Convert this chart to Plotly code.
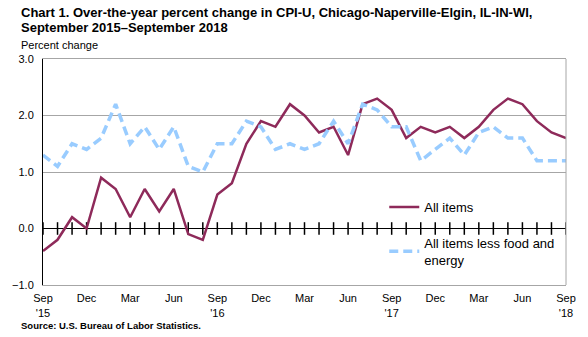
import plotly.graph_objects as go

# ---- data ----
months = ["Sep", "Oct", "Nov", "Dec", "Jan", "Feb", "Mar", "Apr", "May", "Jun", "Jul", "Aug"] * 3 + ["Sep"]
years = ["'15"] + [""] * 11 + ["'16"] + [""] * 11 + ["'17"] + [""] * 11 + ["'18"]
all_items = [-0.4, -0.2, 0.2, 0.0, 0.9, 0.7, 0.2, 0.7, 0.3, 0.7, -0.1, -0.2,
             0.6, 0.8, 1.5, 1.9, 1.8, 2.2, 2.0, 1.7, 1.8, 1.3, 2.2, 2.3,
             2.1, 1.6, 1.8, 1.7, 1.8, 1.6, 1.8, 2.1, 2.3, 2.2, 1.9, 1.7, 1.6]
core = [1.3, 1.1, 1.5, 1.4, 1.6, 2.2, 1.5, 1.8, 1.4, 1.8, 1.1, 1.0,
        1.5, 1.5, 1.9, 1.8, 1.4, 1.5, 1.4, 1.5, 1.9, 1.5, 2.2, 2.1,
        1.8, 1.8, 1.2, 1.4, 1.6, 1.3, 1.7, 1.8, 1.6, 1.6, 1.2, 1.2, 1.2]
y_range = [-1.0, 3.0]
y_ticks = [-1.0, 0.0, 1.0, 2.0, 3.0]

x = list(range(len(months)))
tick_vals = [i for i in x if months[i] in ("Sep", "Dec", "Mar", "Jun")]
tick_text = [months[i] + ("<br>" + years[i] if years[i] else "") for i in tick_vals]
zero_line = [0.0] * len(x)

W, H = 588, 337
L, R, T, B = 30, 17, 59, 52
plot_h = H - T - B
plot_w = W - L - R


def py(p):
    return (H - B - p) / plot_h


def px(p):
    return (p - L) / plot_w


FONT = "Liberation Sans, Arial, sans-serif"
MAROON = "#8E2A5A"
BLUE = "#99CCFF"
GRID = "#A6A6A6"

fig = go.Figure()
# zero line with month tick marks crossing it
fig.add_trace(go.Scatter(
    x=x, y=zero_line, mode="lines+markers", showlegend=False, hoverinfo="skip",
    line=dict(color="black", width=1),
    marker=dict(symbol="line-ns", size=9, color="black",
                line=dict(width=1.5, color="black")),
))
fig.add_trace(go.Scatter(
    x=x, y=all_items, mode="lines", name="All items", legendgroup="a",
    line=dict(color=MAROON, width=2.5),
))
fig.add_trace(go.Scatter(
    x=x, y=core, mode="lines", name="All items less food and<br>energy", legendgroup="b",
    line=dict(color=BLUE, width=3.5, dash="9px,5px"),
))

fig.update_layout(
    width=W, height=H,
    margin=dict(l=L, r=R, t=T, b=B, pad=0),
    paper_bgcolor="white", plot_bgcolor="white",
    font=dict(family=FONT, size=11, color="black"),
    showlegend=True,
    legend=dict(
        x=px(383), y=py(192), xanchor="left", yanchor="top",
        bgcolor="rgba(0,0,0,0)", font=dict(size=13, family=FONT),
        traceorder="grouped", tracegroupgap=16, itemwidth=30,
    ),
    xaxis=dict(
        range=[0, len(x) - 1], tickmode="array", tickvals=tick_vals, ticktext=tick_text,
        showgrid=False, zeroline=False, ticks="", showline=True, linecolor=GRID,
        linewidth=1, mirror=True, tickfont=dict(size=11), ticklabelstandoff=3,
    ),
    yaxis=dict(
        range=y_range, tickmode="array", tickvals=y_ticks, tickformat=".1f",
        showgrid=True, gridcolor=GRID, gridwidth=1, zeroline=False,
        ticks="", showline=True, linecolor="black", linewidth=1,
        tickfont=dict(size=11), ticklabelstandoff=6,
    ),
    shapes=[dict(type="line", xref="paper", yref="paper", x0=1, x1=1, y0=0, y1=1,
                 line=dict(color=GRID, width=1))],
    annotations=[
        dict(text="<b>Chart 1. Over-the-year percent change in CPI-U, Chicago-Naperville-Elgin, IL-IN-WI,</b>",
             xref="paper", yref="paper", x=px(5), y=py(13), xanchor="left", yanchor="middle",
             showarrow=False, font=dict(size=13, family=FONT)),
        dict(text="<b>September 2015–September 2018</b>",
             xref="paper", yref="paper", x=px(5), y=py(28), xanchor="left", yanchor="middle",
             showarrow=False, font=dict(size=13, family=FONT)),
        dict(text="Percent change",
             xref="paper", yref="paper", x=px(5), y=py(45), xanchor="left", yanchor="middle",
             showarrow=False, font=dict(size=11, family=FONT)),
        dict(text="<b>Source: U.S. Bureau of Labor Statistics.</b>",
             xref="paper", yref="paper", x=px(5), y=py(325), xanchor="left", yanchor="middle",
             showarrow=False, font=dict(size=9.5, family=FONT)),
    ],
)

fig.write_html("out.html")
